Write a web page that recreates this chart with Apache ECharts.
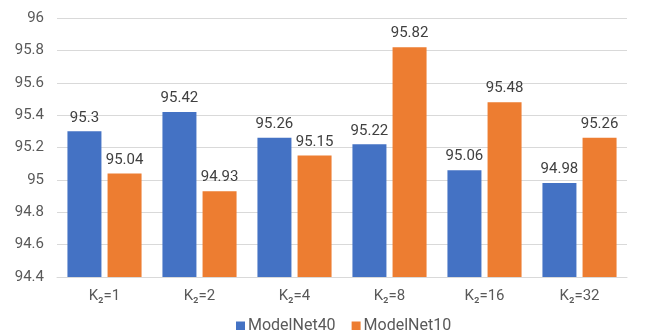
<!DOCTYPE html>
<html>
<head>
<meta charset="utf-8">
<script src="https://cdn.jsdelivr.net/npm/echarts@6/dist/echarts.min.js"></script>
<style>
  html, body { margin: 0; padding: 0; background: #fff; }
  #chart { width: 645px; height: 330px; }
</style>
</head>
<body>
<div id="chart"></div>
<script>
// K2 settings on the x axis
const categories = ['K\u2082=1', 'K\u2082=2', 'K\u2082=4', 'K\u2082=8', 'K\u2082=16', 'K\u2082=32'];
// Accuracy per dataset
const modelNet40 = [95.3, 95.42, 95.26, 95.22, 95.06, 94.98];
const modelNet10 = [95.04, 94.93, 95.15, 95.82, 95.48, 95.26];
const seriesNames = ['ModelNet40', 'ModelNet10'];

const font = 'Roboto, "Noto Sans", sans-serif';
const chart = echarts.init(document.getElementById('chart'));

const labelStyle = {
  show: true,
  position: 'top',
  distance: 6,
  color: '#404040',
  fontSize: 15,
  fontFamily: font
};

chart.setOption({
  animation: false,
  grid: { left: 57, right: 18, top: 18, bottom: 53, containLabel: false },
  legend: {
    data: seriesNames,
    top: 313,
    left: 231,
    itemWidth: 9,
    itemHeight: 9,
    itemGap: 16,
    icon: 'rect',
    textStyle: { color: '#595959', fontSize: 16, fontFamily: font, padding: [0, 0, 0, -2] }
  },
  xAxis: {
    type: 'category',
    data: categories,
    axisLine: { lineStyle: { color: '#d9d9d9', width: 1 } },
    axisTick: { show: false },
    axisLabel: { color: '#595959', fontSize: 15, fontFamily: font, margin: 12 }
  },
  yAxis: {
    type: 'value',
    min: 94.4,
    max: 96,
    interval: 0.2,
    axisLine: { show: false },
    axisTick: { show: false },
    splitLine: { lineStyle: { color: '#d9d9d9', width: 1 } },
    axisLabel: {
      color: '#595959', fontSize: 15, fontFamily: font, margin: 13,
      formatter: v => String(Math.round(v * 100) / 100)
    }
  },
  series: [
    {
      name: seriesNames[0],
      type: 'bar',
      data: modelNet40,
      barWidth: 34,
      barGap: '18%',
      itemStyle: { color: '#4472C4' },
      label: labelStyle
    },
    {
      name: seriesNames[1],
      type: 'bar',
      data: modelNet10,
      barWidth: 34,
      itemStyle: { color: '#ED7D31' },
      label: labelStyle
    }
  ]
});
</script>
</body>
</html>
